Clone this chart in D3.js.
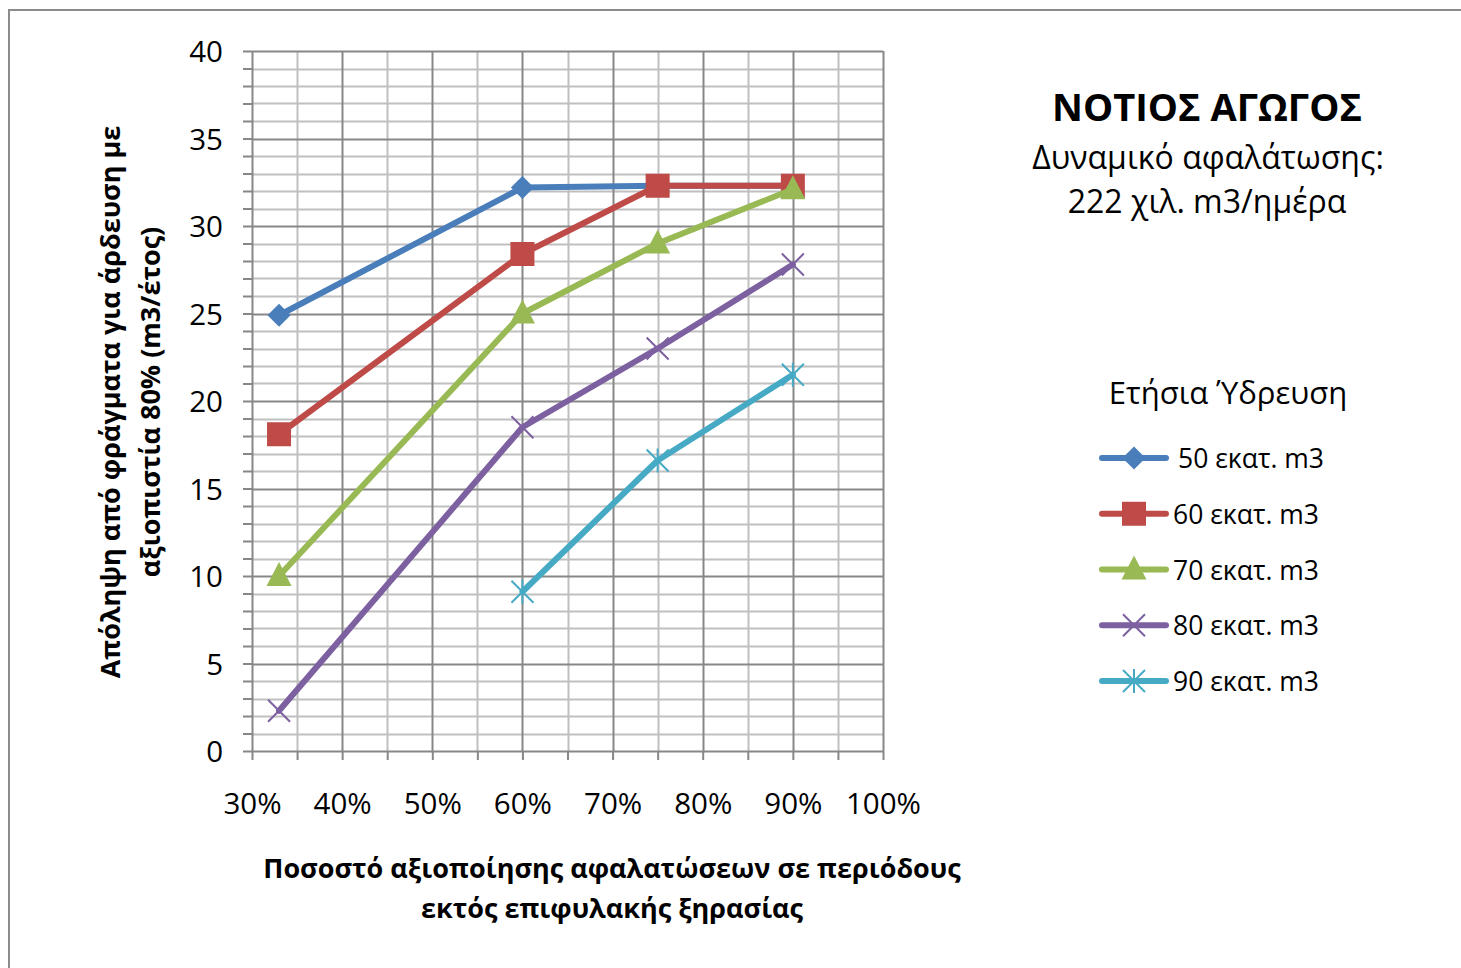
<!DOCTYPE html>
<meta charset="utf-8">
<body style="margin:0;background:#fff">
<script src="https://d3js.org/d3.v7.min.js"></script>
<style>
  text { font-family: "Open Sans", "Noto Sans", sans-serif; fill: #000; }
  .tick-label { font-size: 29.5px; }
  .axis-title { font-size: 27px; font-weight: bold; }
</style>
<script>
var width = 1461;
var height = 968;

// data
var seriesNames = ["50 εκατ. m3", "60 εκατ. m3", "70 εκατ. m3", "80 εκατ. m3", "90 εκατ. m3"];
var xs50 = [0.33, 0.60, 0.75, 0.90];
var ys50 = [24.9, 32.2, 32.3, 32.3];
var xs60 = [0.33, 0.60, 0.75, 0.90];
var ys60 = [18.1, 28.4, 32.3, 32.3];
var xs70 = [0.33, 0.60, 0.75, 0.90];
var ys70 = [10.0, 25.0, 29.0, 32.1];
var xs80 = [0.33, 0.60, 0.75, 0.90];
var ys80 = [2.3, 18.5, 23.0, 27.8];
var xs90 = [0.60, 0.75, 0.90];
var ys90 = [9.1, 16.6, 21.5];

var xTicks = [0.3, 0.4, 0.5, 0.6, 0.7, 0.8, 0.9, 1.0];
var yTicks = [0, 5, 10, 15, 20, 25, 30, 35, 40];

var colors = ["#4A7EBB", "#BE4B48", "#98B954", "#7D60A0", "#46AAC5"];
var markers = ["diamond", "square", "triangle", "cross", "star"];

var series = [
  {name: seriesNames[0], x: xs50, y: ys50},
  {name: seriesNames[1], x: xs60, y: ys60},
  {name: seriesNames[2], x: xs70, y: ys70},
  {name: seriesNames[3], x: xs80, y: ys80},
  {name: seriesNames[4], x: xs90, y: ys90}
];

var svg = d3.select("body").append("svg")
  .attr("width", width)
  .attr("height", height);

// outer chart frame
svg.append("rect")
  .attr("x", 9).attr("y", 10)
  .attr("width", width + 20).attr("height", height + 20)
  .attr("fill", "none")
  .attr("stroke", "#8c8c8c")
  .attr("stroke-width", 2);

var x = d3.scaleLinear().domain([0.3, 1.0]).range([252, 883]);
var y = d3.scaleLinear().domain([0, 40]).range([751, 51]);

// grid: minor first then major
var grid = svg.append("g");
d3.range(0.35, 1.0, 0.1).forEach(function(v) {
  grid.append("line")
    .attr("x1", Math.round(x(v)) + 0.5).attr("x2", Math.round(x(v)) + 0.5)
    .attr("y1", y(40)).attr("y2", y(0))
    .attr("stroke", "#c0c0c0").attr("stroke-width", 2);
});
d3.range(1, 40).filter(function(v) { return v % 5 != 0; }).forEach(function(v) {
  grid.append("line")
    .attr("x1", x(0.3)).attr("x2", x(1.0))
    .attr("y1", Math.round(y(v)) + 0.5).attr("y2", Math.round(y(v)) + 0.5)
    .attr("stroke", "#c0c0c0").attr("stroke-width", 2);
});
xTicks.forEach(function(v) {
  grid.append("line")
    .attr("x1", Math.round(x(v)) + 0.5).attr("x2", Math.round(x(v)) + 0.5)
    .attr("y1", y(40)).attr("y2", y(0))
    .attr("stroke", "#878787").attr("stroke-width", 2);
});
yTicks.forEach(function(v) {
  grid.append("line")
    .attr("x1", x(0.3)).attr("x2", x(1.0))
    .attr("y1", Math.round(y(v)) + 0.5).attr("y2", Math.round(y(v)) + 0.5)
    .attr("stroke", "#878787").attr("stroke-width", 2);
});

// axes
var yAxis = d3.axisLeft(y)
  .tickValues(d3.range(0, 41, 1))
  .tickSize(9)
  .tickFormat(function(d) { return d % 5 == 0 ? d : ""; });
var gy = svg.append("g")
  .attr("transform", "translate(" + x(0.3) + ",0)")
  .call(yAxis);
gy.selectAll(".tick line").attr("stroke", "#878787").attr("stroke-width", 2);
gy.selectAll(".tick text").attr("class", "tick-label").attr("x", -29).attr("dy", "0.36em");

var xAxis = d3.axisBottom(x)
  .tickValues(d3.range(0.3, 1.0001, 0.05))
  .tickSize(9)
  .tickFormat(function(d) { return xTicks.some(function(t) { return Math.abs(t - d) < 1e-6; }) ? d3.format(".0%")(d) : ""; });
var gx = svg.append("g")
  .attr("transform", "translate(0," + y(0) + ")")
  .call(xAxis);
gx.selectAll(".tick line").attr("stroke", "#878787").attr("stroke-width", 2);
gx.selectAll(".tick text").attr("class", "tick-label").attr("y", 52).attr("dy", "0.36em");
svg.selectAll(".domain").remove();

// marker shapes
function drawMarker(g, kind, cx, cy, color) {
  if (kind == "diamond") {
    g.append("path").attr("d", d3.symbol().type(d3.symbolDiamond2).size(340)())
      .attr("transform", "translate(" + cx + "," + cy + ")").attr("fill", color);
  } else if (kind == "square") {
    g.append("rect").attr("x", cx - 12).attr("y", cy - 12).attr("width", 24).attr("height", 24)
      .attr("fill", color);
  } else if (kind == "triangle") {
    g.append("path").attr("d", "M" + cx + "," + (cy - 14) + "L" + (cx + 12.5) + "," + (cy + 10) + "L" + (cx - 12.5) + "," + (cy + 10) + "Z")
      .attr("fill", color);
  } else if (kind == "cross") {
    g.append("path").attr("d", "M" + (cx - 11) + "," + (cy - 11) + "L" + (cx + 11) + "," + (cy + 11) + "M" + (cx + 11) + "," + (cy - 11) + "L" + (cx - 11) + "," + (cy + 11))
      .attr("stroke", color).attr("stroke-width", 2).attr("fill", "none");
  } else if (kind == "star") {
    g.append("path").attr("d", "M" + (cx - 11) + "," + (cy - 11) + "L" + (cx + 11) + "," + (cy + 11) + "M" + (cx + 11) + "," + (cy - 11) + "L" + (cx - 11) + "," + (cy + 11) + "M" + cx + "," + (cy - 12) + "L" + cx + "," + (cy + 12))
      .attr("stroke", color).attr("stroke-width", 2).attr("fill", "none");
  }
}

var line = d3.line()
  .x(function(d) { return x(d[0]); })
  .y(function(d) { return y(d[1]); });

series.forEach(function(s, i) {
  var pts = s.x.map(function(v, j) { return [v, s.y[j]]; });
  var g = svg.append("g");
  g.append("path")
    .attr("d", line(pts))
    .attr("fill", "none")
    .attr("stroke", colors[i])
    .attr("stroke-width", 6)
    .attr("stroke-linejoin", "round")
    .attr("stroke-linecap", "round");
  pts.forEach(function(p) {
    drawMarker(g, markers[i], x(p[0]), y(p[1]), colors[i]);
  });
});

// axis titles
svg.append("text").attr("class", "axis-title")
  .attr("x", 612).attr("y", 878).attr("text-anchor", "middle")
  .text("Ποσοστό  αξιοποίησης αφαλατώσεων  σε περιόδους");
svg.append("text").attr("class", "axis-title")
  .attr("x", 612).attr("y", 918).attr("text-anchor", "middle")
  .text("εκτός επιφυλακής  ξηρασίας");

svg.append("text").attr("class", "axis-title")
  .attr("transform", "translate(120,402) rotate(-90)").attr("text-anchor", "middle")
  .text("Απόληψη από φράγματα  για άρδευση με");
svg.append("text").attr("class", "axis-title")
  .attr("transform", "translate(160,402) rotate(-90)").attr("text-anchor", "middle")
  .text("αξιοπιστία 80% (m3/έτος)");

// title block
svg.append("text")
  .attr("x", 1207).attr("y", 121).attr("text-anchor", "middle")
  .style("font-size", "38px").style("font-weight", "bold")
  .text("ΝΟΤΙΟΣ ΑΓΩΓΟΣ");
svg.append("text")
  .attr("x", 1208).attr("y", 169).attr("text-anchor", "middle")
  .style("font-size", "32px")
  .text("Δυναμικό αφαλάτωσης:");
svg.append("text")
  .attr("x", 1207).attr("y", 213).attr("text-anchor", "middle")
  .style("font-size", "32px")
  .text("222 χιλ. m3/ημέρα");

// legend
svg.append("text")
  .attr("x", 1228).attr("y", 404).attr("text-anchor", "middle")
  .style("font-size", "31px")
  .text("Ετήσια Ύδρευση");

var legendY = d3.scalePoint().domain(seriesNames).range([458, 681]);
seriesNames.forEach(function(name, i) {
  var ly = legendY(name);
  var g = svg.append("g");
  g.append("line")
    .attr("x1", 1102).attr("x2", 1166).attr("y1", ly).attr("y2", ly)
    .attr("stroke", colors[i]).attr("stroke-width", 6).attr("stroke-linecap", "round");
  drawMarker(g, markers[i], 1134, ly, colors[i]);
  g.append("text")
    .attr("x", i == 0 ? 1178 : 1173).attr("y", ly + 10)
    .style("font-size", "26.5px")
    .text(name);
});
</script>
</body>
</html>
